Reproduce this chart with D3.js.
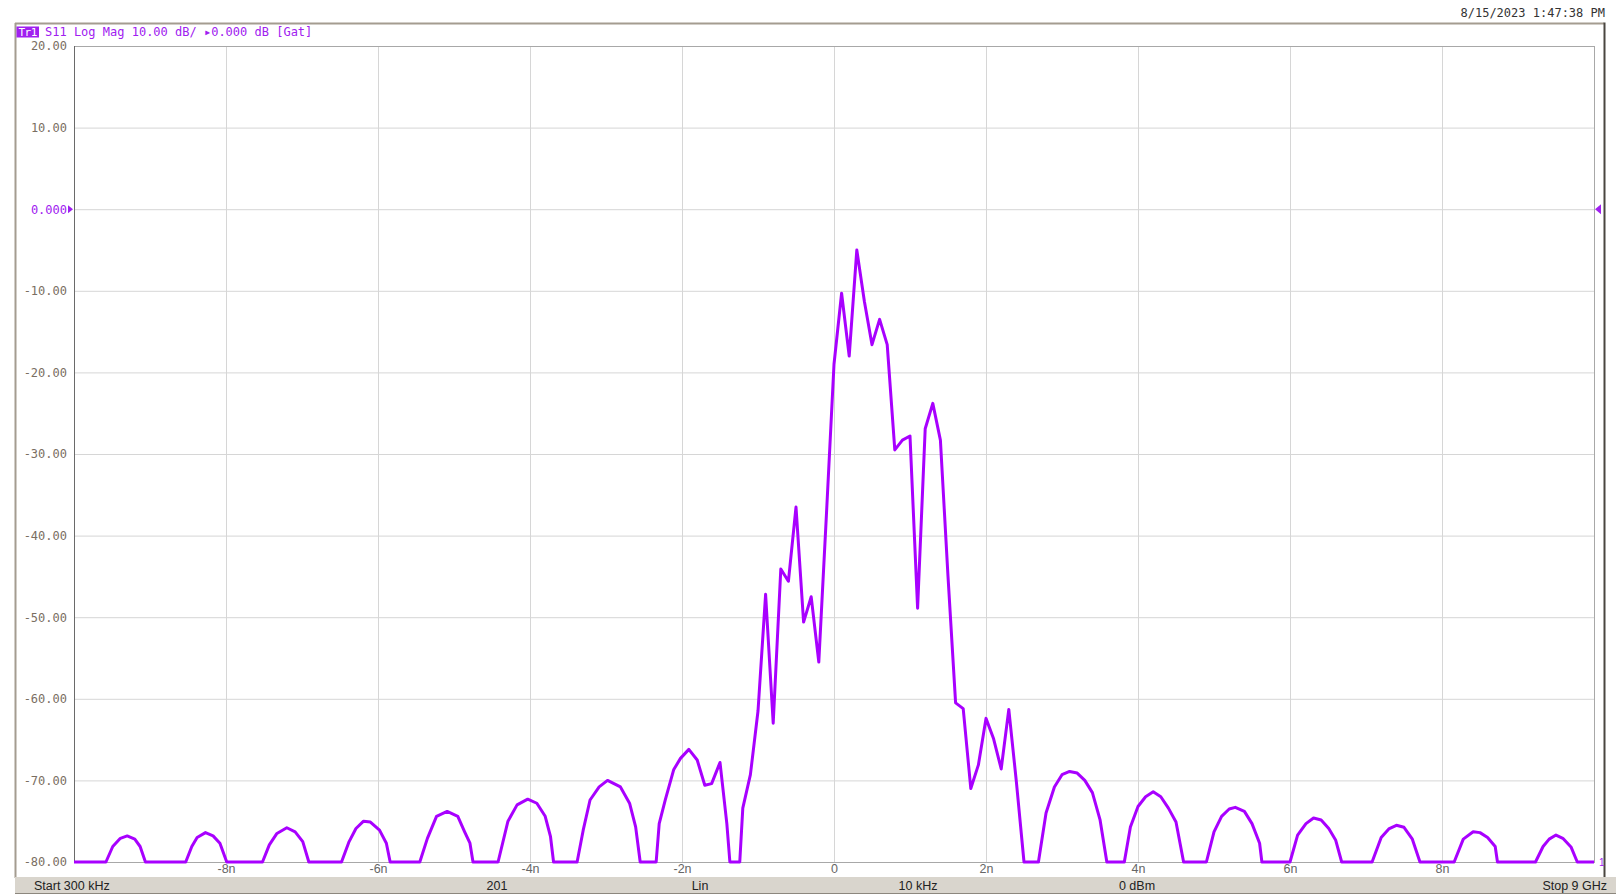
<!DOCTYPE html>
<html>
<head>
<meta charset="utf-8">
<script src="https://cdn.jsdelivr.net/npm/d3@7"></script>
<style>
    html, body { margin: 0; padding: 0; background: #fff; }
    svg { display: block; }
</style>
</head>
<body>
<svg id="chart" width="1616" height="894"></svg>
<script>
// y axis (dB), 10 dB/div, ref 0 dB
var yTicks = [20, 10, 0, -10, -20, -30, -40, -50, -60, -70, -80];
var yTickLabels = ['20.00', '10.00', '0.000', '-10.00', '-20.00', '-30.00', '-40.00', '-50.00', '-60.00', '-70.00', '-80.00'];

// x axis (time, ns)
var xTicks = [-8, -6, -4, -2, 0, 2, 4, 6, 8];
var xTickLabels = ['-8n', '-6n', '-4n', '-2n', '0', '2n', '4n', '6n', '8n'];

var headerTag = 'Tr1';
var headerText = 'S11 Log Mag 10.00 dB/ \u25B80.000 dB [Gat]';
var stampText = '8/15/2023 1:47:38 PM';
var statusLabels = ['Start 300 kHz', '201', 'Lin', '10 kHz', '0 dBm', 'Stop 9 GHz'];

// trace vertices (clipped at -80 dB floor)
var traceNs = [-10, -9.58, -9.49, -9.39, -9.30, -9.20, -9.13, -9.06,
    -8.53, -8.45, -8.38, -8.27, -8.17, -8.08, -7.99,
    -7.52, -7.43, -7.33, -7.20, -7.09, -6.99, -6.91,
    -6.48, -6.38, -6.29, -6.19, -6.10, -5.98, -5.89, -5.84,
    -5.45, -5.35, -5.23, -5.09, -4.95, -4.86, -4.79, -4.75,
    -4.42, -4.29, -4.17, -4.03, -3.91, -3.80, -3.73, -3.69,
    -3.38, -3.30, -3.21, -3.09, -2.98, -2.81, -2.69, -2.61, -2.55,
    -2.34, -2.30, -2.22, -2.11, -2.02, -1.91, -1.80, -1.70, -1.61, -1.50, -1.41, -1.37,
    -1.24, -1.20, -1.10, -1.00, -0.90, -0.80, -0.70, -0.60, -0.50, -0.40, -0.30, -0.20, -0.10,
    0.00, 0.10, 0.20, 0.30, 0.40, 0.50, 0.60, 0.70, 0.80, 0.90, 1.00, 1.10, 1.20, 1.30, 1.40,
    1.50, 1.60, 1.70, 1.80, 1.90, 2.00, 2.10, 2.20, 2.30, 2.40, 2.50,
    2.69, 2.79, 2.90, 3.00, 3.10, 3.20, 3.30, 3.40, 3.50, 3.59,
    3.82, 3.90, 4.00, 4.10, 4.20, 4.30, 4.40, 4.50, 4.60,
    4.90, 5.00, 5.10, 5.20, 5.28, 5.40, 5.50, 5.60, 5.63,
    6.00, 6.10, 6.21, 6.31, 6.41, 6.51, 6.60, 6.68,
    7.08, 7.20, 7.30, 7.40, 7.50, 7.61, 7.71,
    8.16, 8.28, 8.41, 8.50, 8.60, 8.70, 8.73,
    9.23, 9.33, 9.41, 9.50, 9.59, 9.70, 9.78, 10];
var traceDb = [-80, -80, -78.1, -77.1, -76.8, -77.2, -78.1, -80,
    -80, -78.1, -77.0, -76.4, -76.8, -77.7, -80,
    -80, -77.9, -76.5, -75.8, -76.3, -77.5, -80,
    -80, -77.5, -75.9, -75.0, -75.1, -76.1, -77.7, -80,
    -80, -77.1, -74.4, -73.8, -74.4, -76.3, -77.7, -80,
    -80, -75.0, -73.0, -72.3, -72.8, -74.4, -76.9, -80,
    -80, -76.1, -72.4, -70.8, -70.0, -70.8, -72.8, -75.7, -80,
    -80, -75.3, -72.4, -68.7, -67.3, -66.2, -67.5, -70.6, -70.4, -67.8, -75.3, -80,
    -80, -73.4, -69.3, -61.5, -47.2, -63.0, -44.1, -45.6, -36.5, -50.6, -47.5, -55.5, -37.5,
    -19.0, -10.3, -18.0, -5.0, -11.3, -16.6, -13.5, -16.6, -29.5, -28.3, -27.8, -48.9, -26.9, -23.8, -28.3,
    -45.0, -60.5, -61.2, -71.0, -68.1, -62.4, -64.9, -68.6, -61.3, -70.2, -80,
    -80, -74.0, -70.8, -69.3, -68.9, -69.1, -70.0, -71.5, -74.8, -80,
    -80, -75.7, -73.2, -72.0, -71.4, -72.0, -73.4, -75.1, -80,
    -80, -76.3, -74.4, -73.5, -73.3, -73.8, -75.3, -77.7, -80,
    -80, -76.7, -75.3, -74.6, -74.85, -75.9, -77.3, -80,
    -80, -77.0, -75.95, -75.5, -75.75, -77.2, -80,
    -80, -77.2, -76.3, -76.4, -77.0, -78.1, -80,
    -80, -78.1, -77.2, -76.7, -77.1, -78.2, -80, -80];

var traceColor = '#a800ff',
    labelPurple = '#a020f0',
    monoFont = 'DejaVu Sans Mono, monospace',
    barFont = 'Liberation Sans, Arial, sans-serif';

var svg = d3.select('#chart');
var margin = { top: 46, left: 74, right: 22, bottom: 32 },
    width = 1616 - margin.left - margin.right,
    height = 894 - margin.top - margin.bottom;

var x = d3.scaleLinear().domain([-10, 10]).range([0, width]);
var y = d3.scaleLinear().domain([-80, 20]).range([height, 0]);

// outer panel frame
svg.append('line').attr('x1', 15.5).attr('x2', 15.5).attr('y1', 23).attr('y2', 878)
    .attr('stroke', '#a49c90').attr('stroke-width', 2);
svg.append('line').attr('x1', 15).attr('x2', 1604).attr('y1', 23.5).attr('y2', 23.5)
    .attr('stroke', '#a49c90').attr('stroke-width', 2);
svg.append('line').attr('x1', 1604.5).attr('x2', 1604.5).attr('y1', 22.5).attr('y2', 878)
    .attr('stroke', '#4a4640').attr('stroke-width', 2);

// time stamp
svg.append('text')
    .attr('x', 1605).attr('y', 16.5)
    .attr('text-anchor', 'end')
    .attr('font-family', monoFont)
    .attr('font-size', 12)
    .attr('fill', '#333')
    .text(stampText);

// header
svg.append('rect').attr('x', 16.5).attr('y', 26.5).attr('width', 22.5).attr('height', 11)
    .attr('fill', labelPurple);
svg.append('text')
    .attr('x', 27.7).attr('y', 36)
    .attr('text-anchor', 'middle')
    .attr('font-family', monoFont)
    .attr('font-size', 11)
    .attr('letter-spacing', -0.5)
    .attr('fill', '#fff')
    .text(headerTag);
svg.append('text')
    .attr('x', 45).attr('y', 36)
    .attr('font-family', monoFont)
    .attr('font-size', 12)
    .attr('fill', labelPurple)
    .text(headerText);

var g = svg.append('g')
    .attr('transform', 'translate(' + margin.left + ',' + margin.top + ')');

var yAxis = d3.axisLeft(y)
    .tickValues(yTicks)
    .tickSize(-width)
    .tickPadding(7)
    .tickFormat(function (d, i) { return yTickLabels[i]; });

var yg = g.append('g').attr('class', 'axis axis--y').call(yAxis);
yg.select('.domain').remove();
yg.selectAll('line').attr('stroke', '#d6d6d6');
yg.selectAll('text')
    .attr('font-family', monoFont)
    .attr('font-size', 12)
    .attr('fill', function (d) { return d === 0 ? labelPurple : '#7a6e62'; });

var xAxis = d3.axisBottom(x)
    .tickValues(xTicks)
    .tickSize(-height)
    .tickPadding(2)
    .tickFormat(function (d, i) { return xTickLabels[i]; });

var xg = g.append('g').attr('class', 'axis axis--x')
    .attr('transform', 'translate(0,' + height + ')')
    .call(xAxis);
xg.select('.domain').remove();
xg.selectAll('line').attr('stroke', '#d6d6d6');
xg.selectAll('text')
    .attr('font-family', barFont)
    .attr('font-size', 12.5)
    .attr('fill', '#666');

// plot border
g.append('rect')
    .attr('x', 0.5).attr('y', 0.5)
    .attr('width', width).attr('height', height)
    .attr('fill', 'none')
    .attr('stroke', '#a8a8a8');
g.append('line').attr('x1', 0.5).attr('x2', 0.5).attr('y1', 0).attr('y2', height + 1)
    .attr('stroke', '#6a6a6a');

// reference level markers
var refY = y(0);
g.append('path')
    .attr('d', 'M' + (-6) + ',' + (refY - 4) + 'L' + (-1) + ',' + refY + 'L' + (-6) + ',' + (refY + 4) + 'Z')
    .attr('fill', labelPurple);
g.append('path')
    .attr('d', 'M' + (width + 1) + ',' + refY + 'L' + (width + 7) + ',' + (refY - 5) + 'L' + (width + 7) + ',' + (refY + 5) + 'Z')
    .attr('fill', labelPurple);

// trace
var trace = traceNs.map(function (t, i) { return { t: t, db: traceDb[i] }; });
var line = d3.line()
    .x(function (d) { return x(d.t); })
    .y(function (d) { return y(d.db); });

g.append('path')
    .datum(trace)
    .attr('fill', 'none')
    .attr('stroke', traceColor)
    .attr('stroke-width', 3)
    .attr('stroke-linejoin', 'round')
    .attr('d', line);

g.append('text')
    .attr('x', width + 5).attr('y', height + 4)
    .attr('font-family', barFont)
    .attr('font-size', 10)
    .attr('fill', labelPurple)
    .text('1');

// status bar
svg.append('rect').attr('x', 15).attr('y', 877).attr('width', 1601).attr('height', 16)
    .attr('fill', '#d9d5cd');
svg.append('line').attr('x1', 15).attr('x2', 1616).attr('y1', 893.5).attr('y2', 893.5)
    .attr('stroke', '#8c877e');

var statusX = [34, 497, 700, 918, 1137, 1607],
    statusAnchor = ['start', 'middle', 'middle', 'middle', 'middle', 'end'];
svg.selectAll('.status')
    .data(statusLabels)
    .enter()
    .append('text')
    .attr('class', 'status')
    .attr('x', function (d, i) { return statusX[i]; })
    .attr('y', 890)
    .attr('text-anchor', function (d, i) { return statusAnchor[i]; })
    .attr('font-family', barFont)
    .attr('font-size', 12.5)
    .attr('fill', '#222')
    .text(function (d) { return d; });
</script>
</body>
</html>
